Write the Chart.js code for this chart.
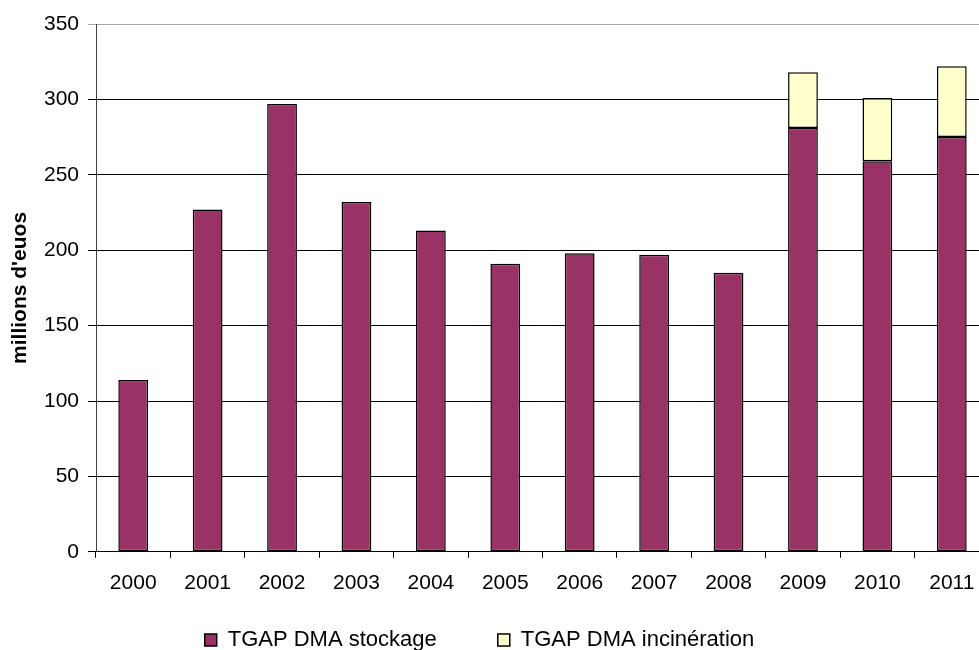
<!DOCTYPE html>
<html lang="fr">
<head>
<meta charset="utf-8">
<title>TGAP DMA</title>
<script src="https://cdn.jsdelivr.net/npm/chart.js@4/dist/chart.umd.min.js"></script>
<style>
  html, body { margin: 0; padding: 0; background: #ffffff; overflow: hidden; width: 979px; height: 650px; }
  #wrap { position: absolute; left: -30px; top: 0; width: 1025px; height: 702px; }
</style>
</head>
<body>
<div id="wrap"><canvas id="chart" width="1025" height="702"></canvas></div>
<script>
// Recettes de TGAP sur les déchets ménagers et assimilés (millions d'euros)
const years = ['2000', '2001', '2002', '2003', '2004', '2005', '2006', '2007', '2008', '2009', '2010', '2011'];
const stockage = [114, 227, 297, 232, 213, 191, 198, 197, 185, 281, 259, 275];
const incineration = [null, null, null, null, null, null, null, null, null, 37, 42, 47];
const seriesNames = ['TGAP DMA stockage', 'TGAP DMA incinération'];
const yTitle = "millions d'euos";

const FONT = "'Liberation Sans', Arial, sans-serif";

// The legend keeps wide spacing between its two entries; this lifts the row
// closer to the axis labels (the label padding would otherwise push it down).
const LEGEND_LIFT = 41;
const legendLift = {
  id: 'legendLift',
  afterLayout(chart) {
    const lg = chart.legend;
    if (lg) {
      lg.top -= LEGEND_LIFT;
      lg.bottom -= LEGEND_LIFT;
    }
  }
};

new Chart(document.getElementById('chart'), {
  type: 'bar',
  plugins: [legendLift],
  data: {
    labels: years,
    datasets: [
      {
        label: seriesNames[0],
        data: stockage,
        backgroundColor: '#993366',
        borderColor: '#000000',
        borderWidth: 1.5,
        borderSkipped: false
      },
      {
        label: seriesNames[1],
        data: incineration,
        backgroundColor: '#FFFFCC',
        borderColor: '#000000',
        borderWidth: 1.5,
        borderSkipped: false
      }
    ]
  },
  options: {
    responsive: false,
    animation: false,
    devicePixelRatio: 1,
    layout: { padding: { top: 24, right: 6, bottom: 0, left: 0 } },
    datasets: { bar: { categoryPercentage: 1, barPercentage: 0.4 } },
    plugins: {
      tooltip: { enabled: false },
      legend: {
        position: 'bottom',
        labels: {
          color: '#000000',
          font: { family: FONT, size: 22 },
          boxWidth: 12,
          boxHeight: 12,
          padding: 61
        }
      }
    },
    scales: {
      x: {
        stacked: true,
        grid: {
          drawOnChartArea: false,
          drawTicks: true,
          tickLength: 6,
          color: '#000000'
        },
        border: { color: '#000000', width: 1 },
        ticks: {
          color: '#000000',
          font: { family: FONT, size: 21 },
          padding: 13,
          maxRotation: 0,
          autoSkip: false
        }
      },
      y: {
        stacked: true,
        min: 0,
        max: 350,
        afterFit: (scale) => { scale.width = 126; },
        grid: {
          color: (ctx) => (ctx.tick && ctx.tick.value === 350 ? '#a6a6a6' : '#000000'),
          lineWidth: 1,
          drawTicks: true,
          tickLength: 8
        },
        border: { color: '#404040', width: 1 },
        ticks: {
          stepSize: 50,
          color: '#000000',
          font: { family: FONT, size: 21 },
          padding: 9
        },
        title: {
          display: true,
          text: yTitle,
          color: '#000000',
          font: { family: FONT, size: 21, weight: 'bold' },
          padding: { top: 38, bottom: 0 }
        }
      }
    }
  }
});
</script>
</body>
</html>
